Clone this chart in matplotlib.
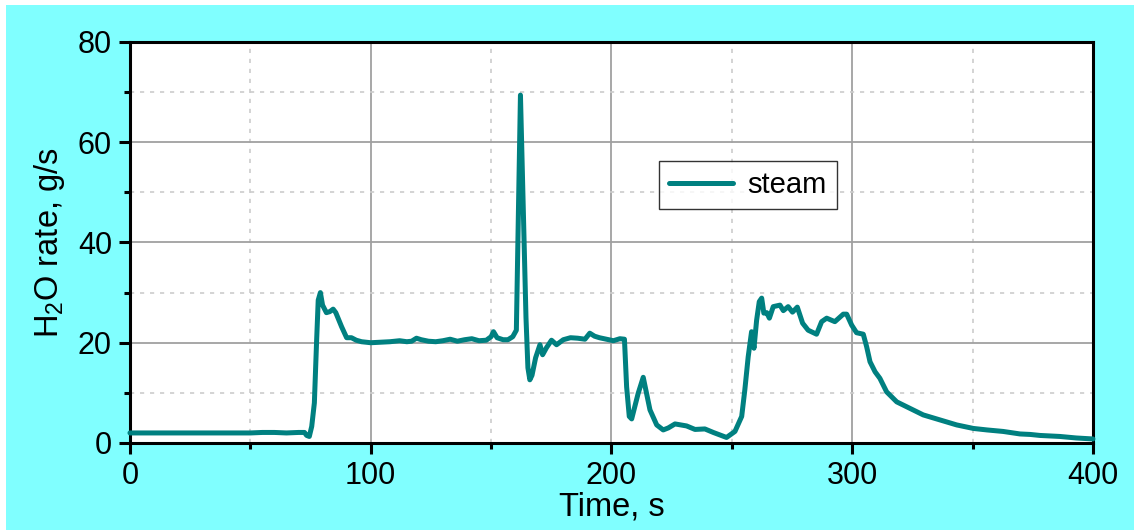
import matplotlib
matplotlib.use('Agg')
import matplotlib.pyplot as plt
from matplotlib.patches import Rectangle
from matplotlib.ticker import MultipleLocator

# steam release rate over the run
time_s = [0, 20, 40, 50, 55, 60, 65, 70, 72.5, 73.4, 74.5, 75.5, 76.6, 77.5, 78.2, 79.1,
          80, 81.6, 83, 84.4, 85.5, 87.9, 90, 92, 94, 96.2, 100, 104, 108, 112, 115, 117,
          119, 121, 124, 127, 130, 133, 136, 139, 142, 145, 148, 150, 151, 152.5, 155, 157,
          159, 160.5, 161.3, 162.2, 163.2, 164.5, 165.3, 166.1, 167, 168.5, 170.3, 171.4,
          173, 175.1, 177.2, 180, 183, 186, 189, 191, 193, 195, 198, 200.8, 203.5, 205.4,
          206.3, 207.4, 208.4, 211.1, 213.2, 214.6, 216, 218.8, 221.5, 223.6, 226.4, 231.2,
          234.7, 238.8, 242.3, 245, 247.8, 251.3, 254.1, 255.4, 256.8, 258.2, 259.2, 260.3,
          261.4, 262.4, 263.3, 264.5, 265.6, 267.2, 270, 271.4, 273.4, 275.2, 277.2, 279.4,
          281.7, 285.2, 287.3, 289.4, 292.8, 296.3, 297.7, 299.8, 301.8, 304.6, 306, 307.4,
          309.5, 311.5, 314.3, 318.5, 324, 329.5, 336.4, 343.4, 350.3, 356, 362.7, 369.7,
          374, 378, 386.3, 393, 400]
steam = [2.0, 2.0, 2.0, 2.0, 2.1, 2.1, 2.0, 2.1, 2.1, 1.5, 1.3, 3.3, 8.0, 20.0, 28.5, 30.0,
         27.5, 26.0, 26.2, 26.7, 26.0, 23.2, 21.0, 21.0, 20.5, 20.2, 20.0, 20.1, 20.2, 20.4,
         20.2, 20.3, 20.9, 20.6, 20.3, 20.2, 20.4, 20.7, 20.3, 20.6, 20.8, 20.4, 20.5, 21.2,
         22.2, 21.0, 20.6, 20.6, 21.2, 22.5, 45.0, 69.4, 50.0, 25.0, 15.0, 12.6, 13.5, 17.0,
         19.6, 17.6, 19.0, 20.5, 19.6, 20.6, 21.0, 20.9, 20.7, 21.9, 21.3, 21.0, 20.7, 20.4,
         20.8, 20.7, 11.2, 5.3, 4.8, 9.9, 13.1, 9.9, 6.6, 3.6, 2.6, 3.0, 3.8, 3.4, 2.7, 2.8,
         2.1, 1.6, 1.1, 2.3, 5.3, 10.6, 17.2, 22.2, 18.9, 24.5, 28.2, 28.9, 25.9, 26.0, 24.9,
         27.2, 27.5, 26.4, 27.2, 26.1, 27.1, 23.9, 22.5, 21.7, 24.2, 24.9, 24.2, 25.7, 25.7,
         23.5, 22.0, 21.7, 19.2, 16.2, 14.2, 12.9, 10.2, 8.2, 6.9, 5.6, 4.6, 3.6, 2.9, 2.6,
         2.3, 1.8, 1.7, 1.5, 1.3, 1.0, 0.8]

plt.rcParams['font.family'] = ['Liberation Sans', 'DejaVu Sans']
plt.rcParams['mathtext.fontset'] = 'custom'
plt.rcParams['mathtext.rm'] = 'Liberation Sans'

fig = plt.figure(figsize=(11.34, 5.30), dpi=100, facecolor='#80FFFF')
# thin white margin along the left and top edges
fig.patches.append(Rectangle((0, 0), 6 / 1134, 1, transform=fig.transFigure,
                             facecolor='white', edgecolor='none', zorder=-1))
fig.patches.append(Rectangle((0, 1 - 5 / 530), 1, 5 / 530, transform=fig.transFigure,
                             facecolor='white', edgecolor='none', zorder=-1))

ax = fig.add_axes([0.1146, 0.1642, 0.8492, 0.7566])
ax.set_facecolor('white')

ax.plot(time_s, steam, color='#008080', lw=3.6, solid_joinstyle='round',
        solid_capstyle='round', label='steam', zorder=3, clip_on=False)

ax.set_xlim(0, 400)
ax.set_ylim(0, 80)
ax.xaxis.set_major_locator(MultipleLocator(100))
ax.xaxis.set_minor_locator(MultipleLocator(50))
ax.yaxis.set_major_locator(MultipleLocator(20))
ax.yaxis.set_minor_locator(MultipleLocator(10))

ax.grid(which='major', color='#a0a0a0', lw=1.3, ls='-')
ax.grid(which='minor', color='#cccccc', lw=1.2, ls=(0, (2.5, 3.5)))
ax.set_axisbelow(True)

for s in ax.spines.values():
    s.set_linewidth(2.2)
ax.tick_params(which='major', direction='out', length=8, width=2.2, labelsize=22, pad=5)
ax.tick_params(which='minor', direction='out', length=4, width=2.2)

ax.set_xlabel('Time, s', fontsize=23.5, labelpad=0)
ax.set_ylabel(r'H$_2$O rate, g/s', fontsize=23.5, labelpad=8)

leg = ax.legend(loc='upper left', bbox_to_anchor=(0.549, 0.703), fontsize=21,
                frameon=True, fancybox=False, handlelength=2.2, borderpad=0.35,
                handletextpad=0.5, borderaxespad=0)
leg.get_frame().set_edgecolor('black')
leg.get_frame().set_linewidth(1.0)

fig.savefig('out.png', dpi=100, facecolor=fig.get_facecolor())
